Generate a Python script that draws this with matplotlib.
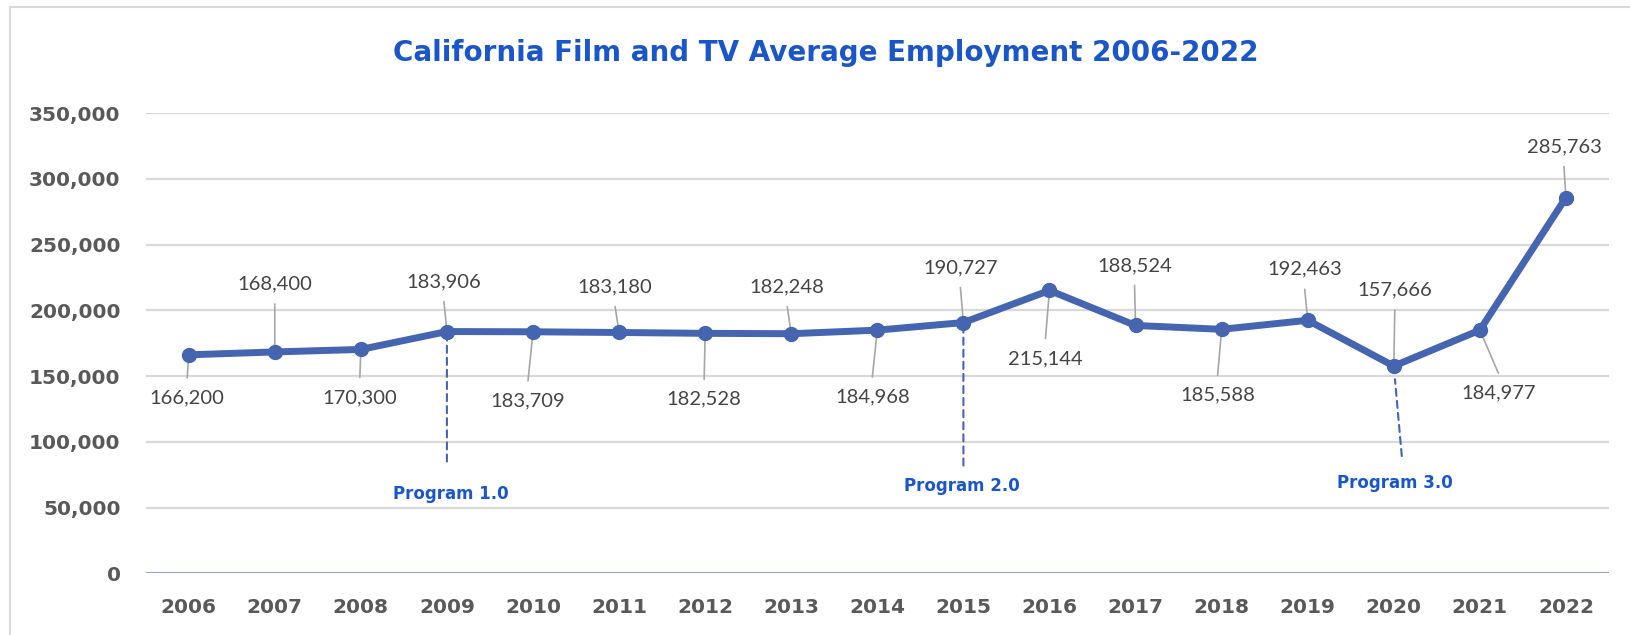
import matplotlib
matplotlib.use("Agg")
import matplotlib.pyplot as plt
from matplotlib.lines import Line2D
from matplotlib.ticker import FuncFormatter

# average employment, California film & TV
years = list(range(2006, 2023))
employment = [166200, 168400, 170300, 183906, 183709, 183180, 182528, 182248,
              184968, 190727, 215144, 188524, 185588, 192463, 157666, 184977,
              285763]

# where each value label sits relative to its point (pixels, +y is up)
label_dx = [-1.5, 0, -1, -3, -5, -4, -1, -4, -5, -3, -4, -1, -4, -3, 1, 18.5, -2]
label_dy = [-43, 68, -48, 50, -69, 46, -66, 47, -67, 55, -68, 60, -66, 51, 76, -63, 51]

programs = ["Program 1.0", "Program 2.0", "Program 3.0"]
program_years = [2009, 2015, 2020]

LINE = "#4565b0"
BLUE = "#1a56c8"
GRAY_TXT = "#595959"
LABEL_TXT = "#444444"
GRID = "#d9d9d9"
BOLD = ["DejaVu Sans"]

plt.rcParams["font.family"] = ["Lato", "DejaVu Sans"]

fig = plt.figure(figsize=(16.31, 6.35), dpi=100)
ax = fig.add_axes([0.0893, 0.0969, 0.8972, 0.7251])

ax.plot(years, employment, color=LINE, lw=5, marker="o", ms=10,
        solid_joinstyle="round", zorder=3)

ax.set_xlim(2005.5, 2022.5)
ax.set_ylim(0, 350000)
ax.set_yticks(range(0, 350001, 50000))
ax.set_xticks(years)
ax.yaxis.set_major_formatter(FuncFormatter(lambda v, p: f"{int(v):,}"))
ax.grid(axis="y", color=GRID, lw=1.6)
ax.set_axisbelow(True)
for s in ax.spines.values():
    s.set_visible(False)
ax.axhline(0, color="#7f95cf", lw=1.8, zorder=2)
ax.tick_params(length=0, labelcolor=GRAY_TXT)
ax.tick_params(axis="y", pad=18)
ax.tick_params(axis="x", pad=18)
for lbl in ax.get_xticklabels() + ax.get_yticklabels():
    lbl.set_fontfamily(BOLD)
    lbl.set_fontweight("bold")
    lbl.set_fontsize(14.5)

# value labels with thin leader lines
for x, v, dx, dy in zip(years, employment, label_dx, label_dy):
    ax.annotate(f"{v:,}", xy=(x, v), xytext=(dx, dy), textcoords="offset pixels",
                ha="center", va="center", fontsize=14.5, color=LABEL_TXT,
                fontweight="normal", zorder=5)
    end = dy - 20 if dy > 0 else dy + 20
    ax.annotate("", xy=(x, v), xytext=(dx, end), textcoords="offset pixels",
                arrowprops=dict(arrowstyle="-", color="#a6a6a6", lw=1.2,
                                shrinkA=0, shrinkB=0), zorder=2)

# program start markers
drops = [(0, -130, 0), (0, -143, 0), (8, -90, 9.5)]
text_pos = [(4, -162), (-2, -163), (1, -117)]
for name, yr, (ex, ey, skip), (tx, ty) in zip(programs, program_years, drops, text_pos):
    v = employment[years.index(yr)]
    ax.annotate("", xy=(yr, v), xytext=(ex, ey), textcoords="offset pixels",
                arrowprops=dict(arrowstyle="-", color=LINE, lw=1.5,
                                linestyle=(0, (3.4, 2.4)), shrinkA=0,
                                shrinkB=skip), zorder=2)
    ax.annotate(name, xy=(yr, v), xytext=(tx, ty), textcoords="offset pixels",
                ha="center", va="center", fontsize=12, color=BLUE,
                fontweight="bold", family=BOLD)

fig.text(0.506, 0.917, "California Film and TV Average Employment 2006-2022",
         ha="center", va="center", fontsize=20, color=BLUE, fontweight="bold",
         family=BOLD)

# outer panel edge
fig.add_artist(Line2D([10 / 1631, 1], [1 - 7 / 635, 1 - 7 / 635],
                      transform=fig.transFigure, color=GRID, lw=1.5))
fig.add_artist(Line2D([10 / 1631, 10 / 1631], [0, 1 - 7 / 635],
                      transform=fig.transFigure, color=GRID, lw=1.5))

fig.savefig("out.png", dpi=100, facecolor="white")
